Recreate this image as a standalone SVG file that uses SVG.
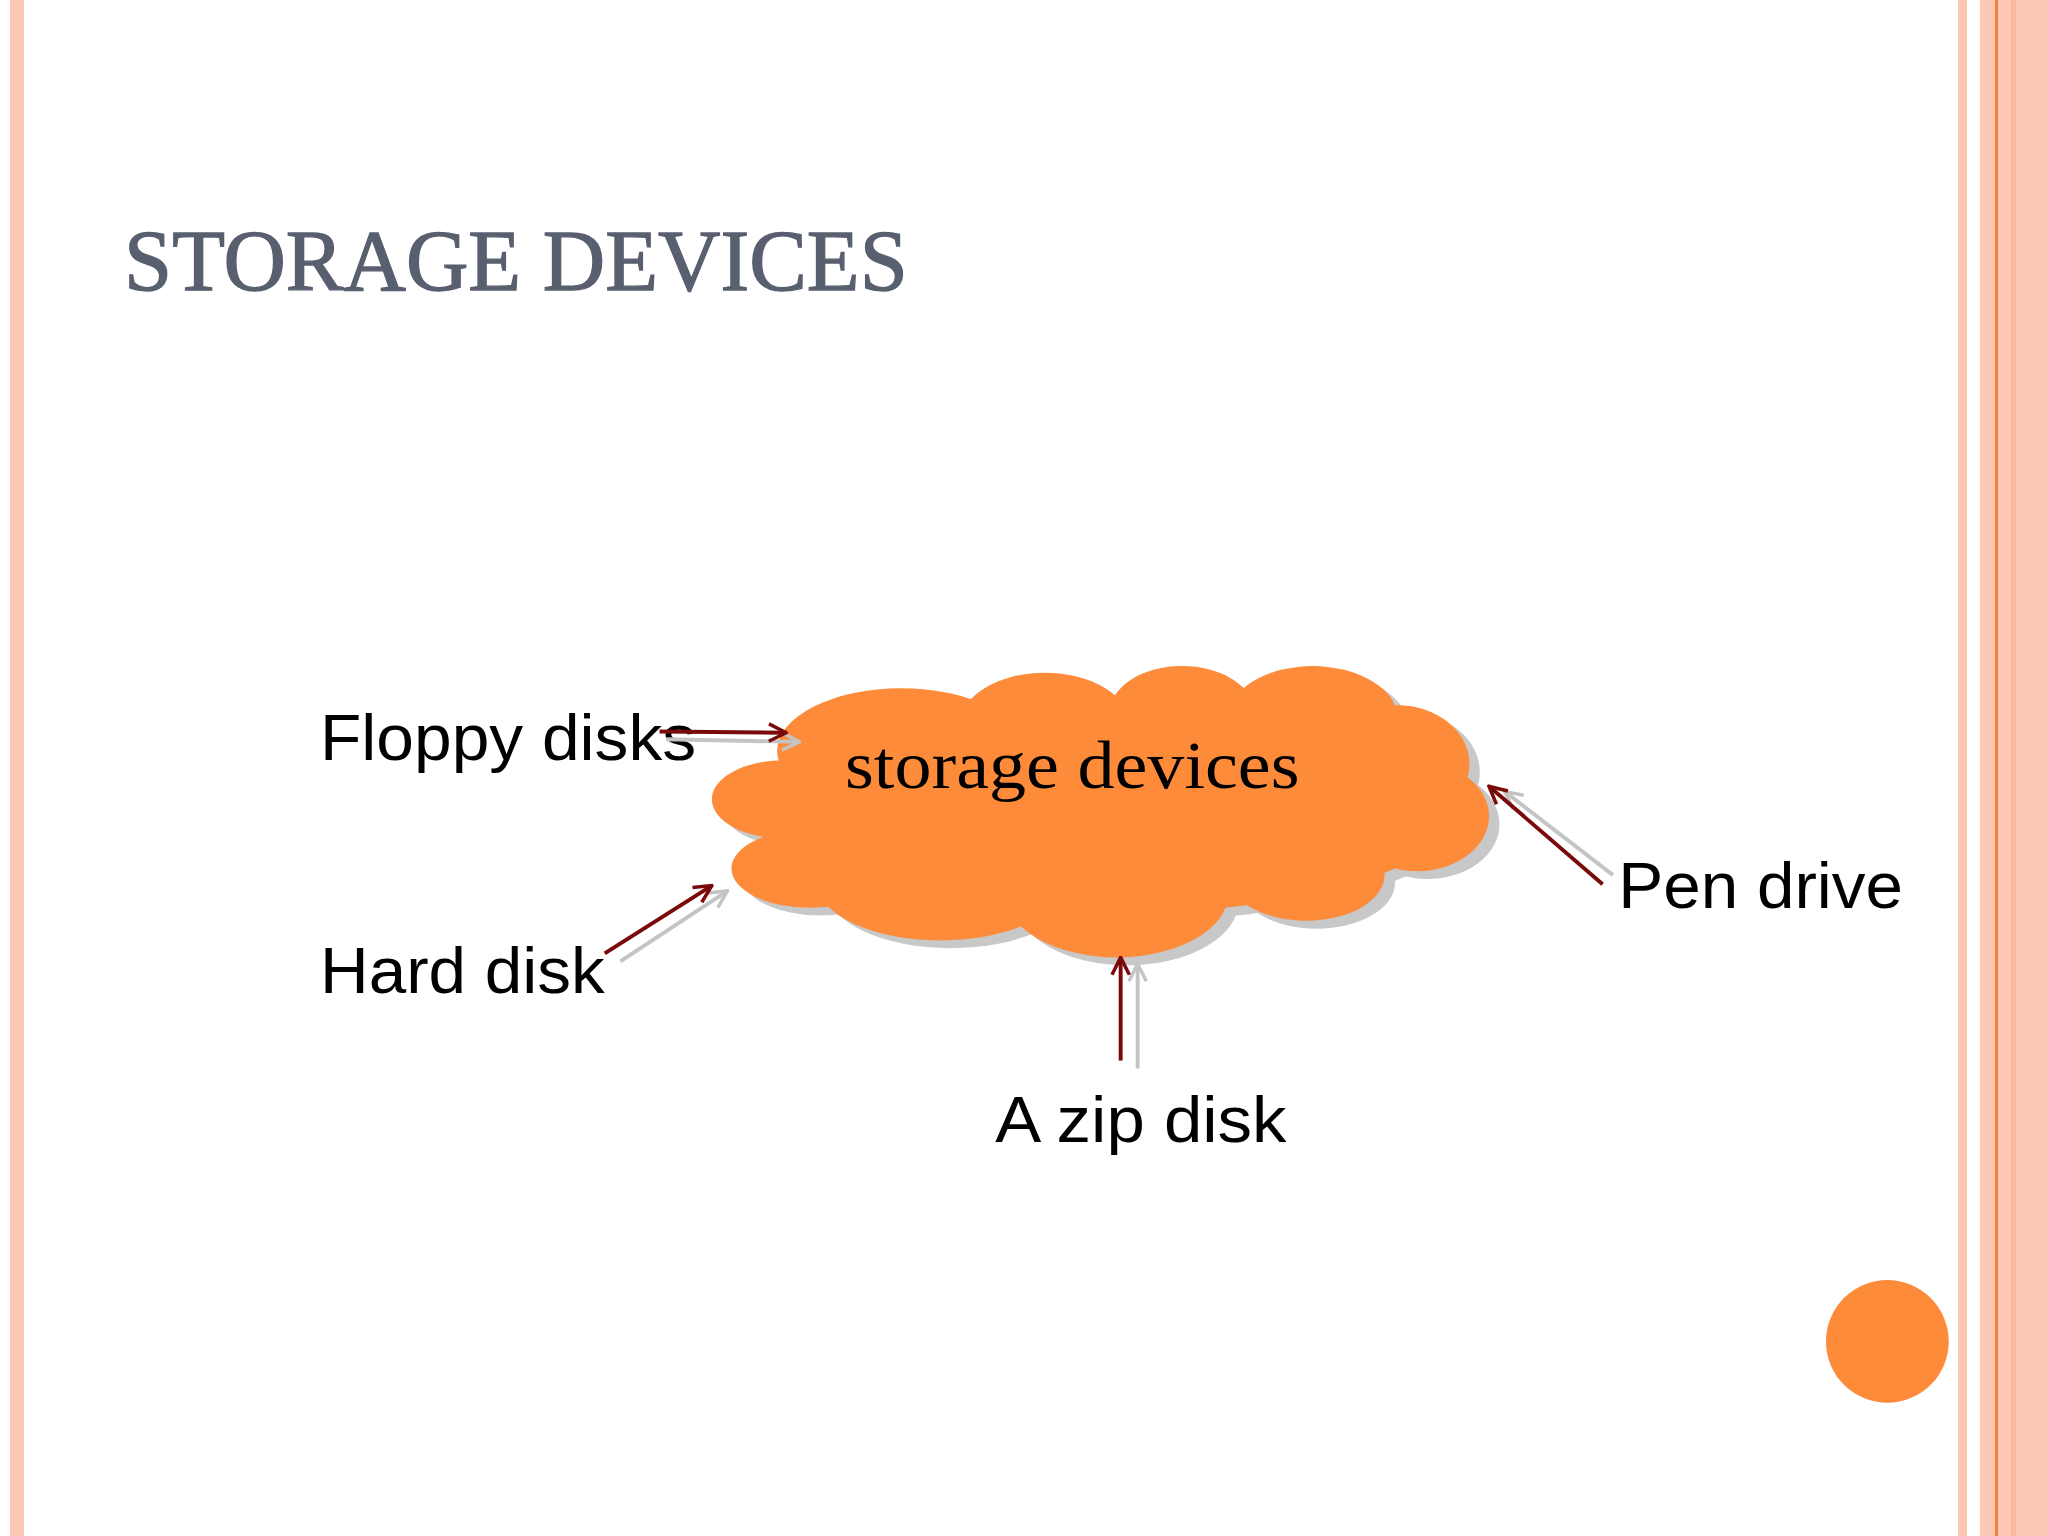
<svg xmlns="http://www.w3.org/2000/svg" width="2048" height="1536" viewBox="0 0 2048 1536">
<defs>
<marker id="ah" viewBox="0 0 12 12" refX="11" refY="6" markerWidth="16" markerHeight="16" markerUnits="userSpaceOnUse" orient="auto"><path d="M1,1 L11,6 L1,11" fill="none" stroke="#7a0a0a" stroke-width="2"/></marker>
<marker id="ahs" viewBox="0 0 12 12" refX="11" refY="6" markerWidth="16" markerHeight="16" markerUnits="userSpaceOnUse" orient="auto"><path d="M1,1 L11,6 L1,11" fill="none" stroke="#c4c4c4" stroke-width="2"/></marker>
<g id="cloudshape">
<ellipse cx="845" cy="620" rx="270" ry="80"/>
<ellipse cx="690" cy="575" rx="95" ry="48"/>
<ellipse cx="800" cy="555" rx="65" ry="40"/>
<ellipse cx="905" cy="545" rx="55" ry="35"/>
<ellipse cx="1005" cy="550" rx="65" ry="40"/>
<ellipse cx="1070" cy="585" rx="55" ry="45"/>
<ellipse cx="1085" cy="625" rx="55" ry="42"/>
<ellipse cx="1000" cy="670" rx="60" ry="35"/>
<ellipse cx="855" cy="685" rx="85" ry="48"/>
<ellipse cx="720" cy="675" rx="95" ry="45"/>
<ellipse cx="620" cy="665" rx="60" ry="30"/>
<ellipse cx="600" cy="612" rx="55" ry="30"/>
</g>
</defs>
<style>
.lbl{font-family:"Liberation Sans",Arial,sans-serif;font-size:50px;fill:#000}
.ln{stroke:#7a0a0a;stroke-width:3;fill:none}
.sh{stroke:#c4c4c4;stroke-width:3;fill:none}
</style>
<rect width="2048" height="1536" fill="#fff"/>
<rect x="10" y="0" width="14" height="1536" fill="#fcc8b4"/>
<rect x="1958" y="0" width="9" height="1536" fill="#fcc8b4"/>
<rect x="1980" y="0" width="68" height="1536" fill="#fdc9b5"/>
<rect x="2011" y="0" width="5" height="1536" fill="#fbb89f"/>
<rect x="1995" y="0" width="3" height="1536" fill="#f08040"/>
<g transform="scale(1.30612)">
<text id="title" x="95" y="222" font-family="'Liberation Serif',serif" font-size="66" fill="#585f6f" stroke="#585f6f" stroke-width="1" textLength="600" lengthAdjust="spacingAndGlyphs">STORAGE DEVICES</text>
<g id="cloud">
<use href="#cloudshape" transform="translate(8,6)" fill="#c8c8c8"/>
<use href="#cloudshape" fill="#fd8b3a"/>
<text x="647" y="603" font-family="'Liberation Serif',serif" font-size="52" fill="#000" textLength="348" lengthAdjust="spacingAndGlyphs">storage devices</text>
</g>
<g id="floppy"><text class="lbl" x="245" y="582" textLength="288" lengthAdjust="spacingAndGlyphs">Floppy disks</text></g>
<g id="hard"><text class="lbl" x="245" y="760" textLength="218" lengthAdjust="spacingAndGlyphs">Hard disk</text></g>
<g id="pen"><text class="lbl" x="1239" y="695" textLength="218" lengthAdjust="spacingAndGlyphs">Pen drive</text></g>
<g id="zip"><text class="lbl" x="762" y="874" textLength="223" lengthAdjust="spacingAndGlyphs">A zip disk</text></g>
<g id="connectors">
<line class="sh" x1="510" y1="566" x2="612" y2="568" marker-end="url(#ahs)"/>
<line class="ln" x1="505" y1="560" x2="602" y2="561" marker-end="url(#ah)"/>
<line class="sh" x1="475" y1="736" x2="557" y2="682" marker-end="url(#ahs)"/>
<line class="ln" x1="463" y1="730" x2="545" y2="678" marker-end="url(#ah)"/>
<line class="sh" x1="871" y1="818" x2="871" y2="738" marker-end="url(#ahs)"/>
<line class="ln" x1="858" y1="812" x2="858" y2="733" marker-end="url(#ah)"/>
<line class="sh" x1="1235" y1="670" x2="1152" y2="606" marker-end="url(#ahs)"/>
<line class="ln" x1="1227" y1="677" x2="1140" y2="602" marker-end="url(#ah)"/>
</g>
<circle id="dot" cx="1445" cy="1027" r="47" fill="#fd8b3a"/>
</g>
</svg>
